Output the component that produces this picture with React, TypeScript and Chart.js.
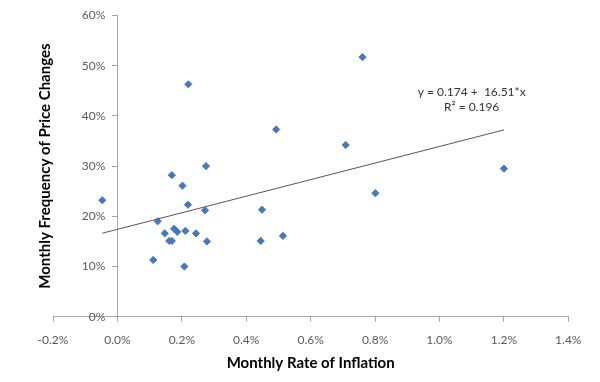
import React, { useEffect, useRef } from 'react';
import { Chart, registerables } from 'chart.js';

Chart.register(...registerables);

// Monthly rate of inflation (%)
const inflation = [
  0.220, 0.275, 0.493, 0.761, 0.709, 1.200, 0.801, -0.047, 0.169, 0.202,
  0.219, 0.272, 0.449, 0.125, 0.147, 0.176, 0.186, 0.211, 0.244, 0.161,
  0.169, 0.278, 0.445, 0.514, 0.111, 0.208,
];
// Monthly frequency of price changes (%)
const frequency = [
  46.3, 30.0, 37.3, 51.7, 34.2, 29.5, 24.6, 23.2, 28.2, 26.1,
  22.3, 21.2, 21.3, 19.0, 16.6, 17.5, 16.9, 17.1, 16.6, 15.1,
  15.1, 15.0, 15.1, 16.1, 11.3, 10.0,
];
// Trend line y = 0.174 + 16.51*x (in % units: intercept 17.4)
const trendIntercept = 17.4;
const trendSlope = 16.51;
const equationLines = ['y = 0.174 +  16.51*x', 'R\u00B2 = 0.196'];
const equationAnchor = [1.10, 44.8, 41.7]; // x, y line1, y line2 (data units)

const xMin = -0.2, xMax = 1.4, xStep = 0.2;
const yMin = 0, yMax = 60, yStep = 10;
const xTitle = 'Monthly Rate of Inflation';
const yTitle = 'Monthly Frequency of Price Changes';

const FONT = 'Lato';
const AXIS_COLOR = '#a6a6a6';
const TICK_COLOR = '#595959';

export default function App() {
  const ref = useRef<HTMLCanvasElement>(null);
  useEffect(() => {
    document.body.style.margin = '0';
    const canvas = ref.current!;
    const lo = Math.min(...inflation);
    const hi = Math.max(...inflation);
    const overlay = {
      id: 'overlay',
      afterDraw(chart: any) {
        const ctx = chart.ctx;
        const { chartArea, scales } = chart;
        // y tick labels, left of the y axis at x = 0
        ctx.save();
        ctx.fillStyle = TICK_COLOR;
        ctx.font = `12px ${FONT}`;
        ctx.textAlign = 'right';
        ctx.textBaseline = 'middle';
        const axisX = scales.x.getPixelForValue(0);
        for (const t of scales.y.ticks) {
          ctx.fillText(`${t.value}%`, axisX - 12, scales.y.getPixelForValue(t.value));
        }
        ctx.restore();
        // y title
        ctx.save();
        ctx.fillStyle = '#000';
        ctx.font = `bold 15px ${FONT}`;
        ctx.textAlign = 'center';
        ctx.textBaseline = 'middle';
        ctx.translate(45, (chartArea.top + chartArea.bottom) / 2);
        ctx.rotate(-Math.PI / 2);
        ctx.fillText(yTitle, 0, 0);
        ctx.restore();
        // equation
        ctx.save();
        ctx.fillStyle = '#333';
        ctx.font = `12px ${FONT}`;
        ctx.textAlign = 'center';
        ctx.textBaseline = 'middle';
        const ex = scales.x.getPixelForValue(equationAnchor[0]);
        ctx.fillText(equationLines[0], ex, scales.y.getPixelForValue(equationAnchor[1]));
        ctx.fillText(equationLines[1], ex, scales.y.getPixelForValue(equationAnchor[2]));
        ctx.restore();
      },
    };
    const chart = new Chart(canvas, {
      type: 'scatter',
      data: {
        datasets: [
          {
            type: 'line',
            data: [lo, hi].map((x) => ({ x, y: trendIntercept + trendSlope * x })),
            borderColor: '#555555',
            borderWidth: 1,
            pointRadius: 0,
            fill: false,
            order: 2,
          } as any,
          {
            data: inflation.map((x, i) => ({ x, y: frequency[i] })),
            pointStyle: 'rectRot',
            pointRadius: 3.6,
            backgroundColor: '#4677bf',
            borderColor: '#4677bf',
            borderWidth: 1,
            order: 1,
          },
        ],
      },
      options: {
        responsive: false,
        animation: false,
        devicePixelRatio: 1,
        layout: { padding: { left: 53, right: 31.7, top: 15.5, bottom: 0 } },
        plugins: { legend: { display: false }, tooltip: { enabled: false } },
        scales: {
          x: {
            type: 'linear',
            position: 'bottom',
            min: xMin,
            max: xMax,
            afterFit: (s: any) => { s.height = 65.3; },
            ticks: {
              stepSize: xStep,
              padding: 11,
              color: TICK_COLOR,
              font: { family: FONT, size: 12 },
              callback: (v: any) => `${(Math.abs(v) < 1e-9 ? 0 : v).toFixed(1)}%`,
            },
            grid: { drawOnChartArea: false, tickLength: 5, color: AXIS_COLOR },
            border: { color: AXIS_COLOR, width: 1 },
            title: {
              display: true,
              text: xTitle,
              color: '#000',
              font: { family: FONT, size: 15, weight: 'bold' },
              padding: { top: 0, bottom: 10 },
            },
          },
          y: {
            type: 'linear',
            position: { x: 0 } as any,
            min: yMin,
            max: yMax,
            ticks: {
              stepSize: yStep,
              display: false,
            },
            grid: { drawOnChartArea: false, tickLength: 5, color: AXIS_COLOR },
            border: { color: AXIS_COLOR, width: 1 },
          },
        },
      },
      plugins: [overlay],
    });
    return () => chart.destroy();
  }, []);
  return (
    <div style={{ width: 600, height: 382 }}>
      <canvas ref={ref} width={600} height={382} style={{ display: 'block' }} />
    </div>
  );
}
